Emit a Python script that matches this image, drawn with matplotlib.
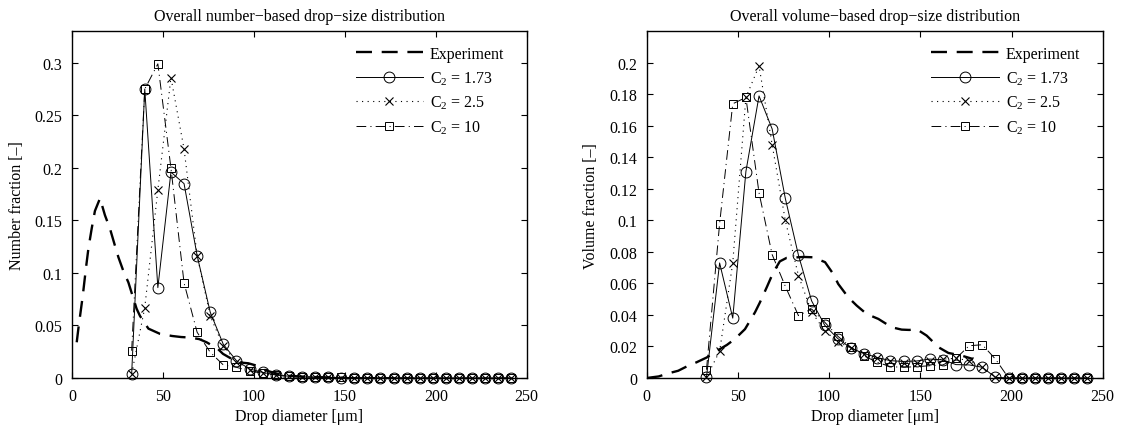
import matplotlib
matplotlib.use("Agg")
import matplotlib.pyplot as plt

plt.rcParams['font.family'] = ['Liberation Serif', 'DejaVu Serif']
plt.rcParams['mathtext.fontset'] = 'custom'
plt.rcParams['mathtext.rm'] = 'Liberation Serif'
plt.rcParams['mathtext.it'] = 'Liberation Serif:italic'
plt.rcParams['lines.scale_dashes'] = False

# ---------------- data ----------------
diam = [32.8, 40.0, 47.2, 54.4, 61.6, 68.8, 76.0, 83.2, 90.4, 97.6,
        104.8, 112.0, 119.2, 126.4, 133.6, 140.8, 148.0, 155.2, 162.4, 169.6,
        176.8, 184.0, 191.2, 198.4, 205.6, 212.8, 220.0, 227.2, 234.4, 241.6]

num_c173 = [0.004, 0.275, 0.086, 0.196, 0.185, 0.1165, 0.0626, 0.032, 0.0165, 0.0086,
            0.0054, 0.0029, 0.0017, 0.0011, 0.0007, 0.0005, 0.0004, 0.0004, 0.0003, 0.0002,
            0.0002, 0.0001, 0.0, 0.0, 0.0, 0.0, 0.0, 0.0, 0.0, 0.0]
num_c25 = [0.004, 0.067, 0.179, 0.286, 0.218, 0.1165, 0.059, 0.030, 0.0155, 0.008,
           0.005, 0.003, 0.0017, 0.0011, 0.0007, 0.0005, 0.0004, 0.0004, 0.0003, 0.0002,
           0.0002, 0.0001, 0.0, 0.0, 0.0, 0.0, 0.0, 0.0, 0.0, 0.0]
num_c10 = [0.026, 0.275, 0.299, 0.1997, 0.0905, 0.0435, 0.0245, 0.0124, 0.0102, 0.0067,
           0.0045, 0.003, 0.002, 0.0013, 0.0008, 0.0006, 0.0005, 0.0004, 0.0004, 0.0003,
           0.0004, 0.0003, 0.0001, 0.0, 0.0, 0.0, 0.0, 0.0, 0.0, 0.0]

vol_c173 = [0.0005, 0.073, 0.038, 0.131, 0.179, 0.158, 0.114, 0.078, 0.049, 0.0335,
            0.025, 0.019, 0.0155, 0.013, 0.011, 0.0105, 0.0108, 0.012, 0.0115, 0.0085,
            0.0083, 0.0068, 0.0004, 0.0, 0.0, 0.0, 0.0, 0.0, 0.0, 0.0]
vol_c25 = [0.0005, 0.017, 0.073, 0.178, 0.198, 0.148, 0.100, 0.065, 0.042, 0.030,
           0.023, 0.019, 0.015, 0.0125, 0.0105, 0.0095, 0.0098, 0.011, 0.012, 0.0125,
           0.011, 0.0068, 0.0004, 0.0, 0.0, 0.0, 0.0, 0.0, 0.0, 0.0]
vol_c10 = [0.0053, 0.098, 0.174, 0.178, 0.1175, 0.0783, 0.0582, 0.0396, 0.0438, 0.0354,
           0.0265, 0.0195, 0.014, 0.010, 0.0072, 0.0068, 0.0072, 0.0078, 0.0083, 0.0125,
           0.0205, 0.0211, 0.012, 0.0, 0.0, 0.0, 0.0, 0.0, 0.0, 0.0]

exp_num_x = [2.6, 3.5, 5.9, 7.7, 9.0, 10.8, 12.6, 15.4, 18.1, 20.9, 23.6, 25.5, 28.2,
             31.0, 33.7, 35.5, 37.4, 42.0, 48.4, 55, 60, 65, 70, 74, 77, 80, 83, 87,
             90.5, 94, 97, 101, 104, 108, 112, 116, 120, 125, 130, 140, 150]
exp_num_y = [0.034, 0.047, 0.078, 0.105, 0.123, 0.142, 0.159, 0.171, 0.155, 0.142, 0.126,
             0.115, 0.102, 0.091, 0.076, 0.066, 0.059, 0.047, 0.042, 0.040, 0.039, 0.0385,
             0.037, 0.034, 0.031, 0.028, 0.023, 0.019, 0.0165, 0.0145, 0.014, 0.012, 0.009,
             0.0065, 0.0045, 0.003, 0.002, 0.0015, 0.001, 0.0006, 0.0003]

exp_vol_x = [0, 6.6, 12, 17.3, 22.8, 27.4, 32.9, 40.2, 44, 48.4, 53.9, 59.4, 62.1, 66,
             69.4, 73, 76.7, 81.3, 86, 91.3, 97.8, 102.3, 105, 110.5, 115.1, 120.6, 127,
             134.3, 139.8, 144, 148, 153.5, 160, 165.4, 172.7, 179]
exp_vol_y = [0, 0.001, 0.003, 0.0046, 0.0078, 0.010, 0.013, 0.0184, 0.021, 0.0248, 0.031,
             0.0417, 0.048, 0.058, 0.067, 0.074, 0.0762, 0.0765, 0.0768, 0.0766, 0.0735,
             0.066, 0.0597, 0.0512, 0.046, 0.0406, 0.0375, 0.0322, 0.0307, 0.0305, 0.031,
             0.0269, 0.0195, 0.0159, 0.0142, 0.012]

labels = ['Experiment', 'C$_2$ = 1.73', 'C$_2$ = 2.5', 'C$_2$ = 10']
titles = ['Overall number\u2212based drop\u2212size distribution',
          'Overall volume\u2212based drop\u2212size distribution']
ylabels = ['Number fraction [\u2013]', 'Volume fraction [\u2013]']
xlabel = 'Drop diameter [\u03bcm]'

# ---------------- figure ----------------
fig = plt.figure(figsize=(11.25, 4.27), dpi=100)
ax1 = fig.add_axes([0.064, 0.1124, 0.4042, 0.812])
ax2 = fig.add_axes([0.5748, 0.1124, 0.4054, 0.812])

FS = 11.5


def draw(ax, ex_x, ex_y, s1, s2, s3, ymax, yticks, title, ylabel):
    ax.plot(ex_x, ex_y, color='k', lw=1.7, dashes=(11.5, 7), label=labels[0])
    ax.plot(diam, s1, color='k', lw=0.7, ls='-', marker='o', ms=7.8,
            mfc='none', mec='k', mew=0.7, clip_on=False, label=labels[1])
    ax.plot(diam, s2, color='k', lw=0.8, dashes=(0.8, 3.2), marker='x', ms=5.5,
            mec='k', mew=0.8, clip_on=False, label=labels[2])
    ax.plot(diam, s3, color='k', lw=0.7, dashes=(7, 3, 0.8, 3), marker='s', ms=6,
            mfc='none', mec='k', mew=0.7, clip_on=False, label=labels[3])
    ax.set_xlim(0, 250)
    ax.set_ylim(0, ymax)
    ax.set_xticks([0, 50, 100, 150, 200, 250])
    ax.set_yticks(yticks)
    ax.set_yticklabels([('%g' % v) for v in yticks])
    ax.tick_params(direction='in', top=True, right=True, length=4, width=0.8,
                   labelsize=FS, pad=7)
    for sp in ax.spines.values():
        sp.set_linewidth(1.0)
    ax.set_title(title, fontsize=FS, pad=8)
    ax.set_xlabel(xlabel, fontsize=FS, labelpad=3)
    ax.set_ylabel(ylabel, fontsize=FS, labelpad=7)
    leg = ax.legend(loc='upper right', bbox_to_anchor=(0.975, 0.99), frameon=False,
                    fontsize=FS, handlelength=4.2, handletextpad=0.45,
                    labelspacing=0.45, borderaxespad=0.3)
    return leg


draw(ax1, exp_num_x, exp_num_y, num_c173, num_c25, num_c10, 0.33,
     [0, 0.05, 0.1, 0.15, 0.2, 0.25, 0.3], titles[0], ylabels[0])
draw(ax2, exp_vol_x, exp_vol_y, vol_c173, vol_c25, vol_c10, 0.22,
     [0, 0.02, 0.04, 0.06, 0.08, 0.1, 0.12, 0.14, 0.16, 0.18, 0.2], titles[1], ylabels[1])

fig.savefig('out.png', dpi=100)
